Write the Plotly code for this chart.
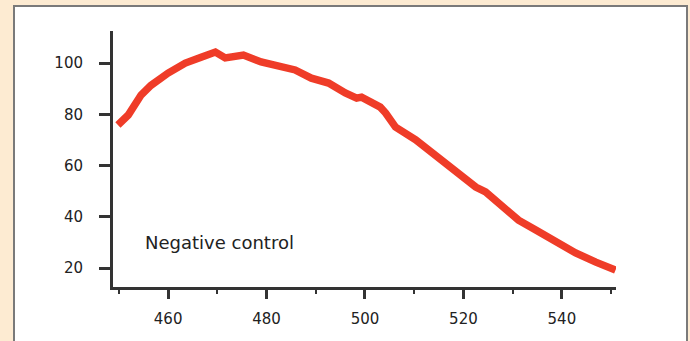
import plotly.graph_objects as go

# Data
wavelength = [449.8, 451.9, 454.5, 456.5, 460.0, 463.5, 466.7, 469.6, 471.6, 473.8,
              475.3, 478.9, 482.4, 485.8, 489.1, 492.6, 496.0, 498.3, 499.3, 503.1,
              504.2, 506.2, 510.3, 514.3, 518.4, 522.5, 524.5, 527.8, 531.2, 534.7,
              538.7, 542.8, 546.9, 550.9]
intensity = [75.8, 79.7, 87.5, 91.3, 96.1, 100.0, 102.3, 104.3, 102.0, 102.3,
             103.1, 100.4, 99.2, 97.3, 94.1, 92.2, 88.3, 86.3, 86.7, 82.8,
             80.5, 75.0, 70.0, 64.1, 58.2, 51.6, 49.7, 44.6, 38.7, 34.8,
             30.1, 25.9, 22.3, 19.2]
x_ticks = [460, 480, 500, 520, 540]
y_ticks = [20, 40, 60, 80, 100]
label = "Negative control"

W, H = 690, 341
L, R, T, B = 113, 74, 31, 54
pw, ph = W - L - R, H - T - B

def px(xp):
    return (xp - L) / pw

def py(yp):
    return (H - B - yp) / ph

fig = go.Figure()
fig.add_trace(go.Scatter(
    x=wavelength, y=intensity, mode="lines",
    line=dict(color="#ef3c28", width=7.5),
    hoverinfo="skip", showlegend=False,
))

font = "DejaVu Sans, Arial, Helvetica, sans-serif"

fig.update_layout(
    width=W, height=H,
    margin=dict(l=L, r=R, t=T, b=B, pad=0),
    paper_bgcolor="#fdebd2",
    plot_bgcolor="rgba(0,0,0,0)",
    font=dict(family=font, size=15, color="#222"),
    shapes=[dict(
        type="rect", xref="paper", yref="paper", layer="below",
        x0=px(14), x1=px(687), y0=py(360), y1=py(6),
        fillcolor="white", line=dict(color="#7a7a7a", width=2),
    )],
    annotations=[dict(
        x=454.9, y=29.8, xref="x", yref="y", text=label, showarrow=False,
        xanchor="left", yanchor="middle",
        font=dict(family=font, size=18, color="#222"),
    )],
)
fig.update_xaxes(
    range=[448.8, 551.0], tickmode="array", tickvals=x_ticks,
    showgrid=False, zeroline=False, showline=True, linecolor="#333", linewidth=3,
    ticks="outside", ticklen=9, tickwidth=3, tickcolor="#333",
    ticklabelstandoff=7,
    minor=dict(tick0=450, dtick=10, ticks="outside", ticklen=4, tickwidth=2,
               tickcolor="#333", showgrid=False),
)
fig.update_yaxes(
    range=[12.6, 112.5], tickmode="array", tickvals=y_ticks,
    showgrid=False, zeroline=False, showline=True, linecolor="#333", linewidth=3,
    ticks="outside", ticklen=11, tickwidth=3, tickcolor="#333",
    ticklabelstandoff=13,
)

fig.write_html(
    "out.html",
    config={"displayModeBar": False, "staticPlot": True},
    post_script="document.body.style.margin='0';document.body.style.background='#fdebd2';",
)
